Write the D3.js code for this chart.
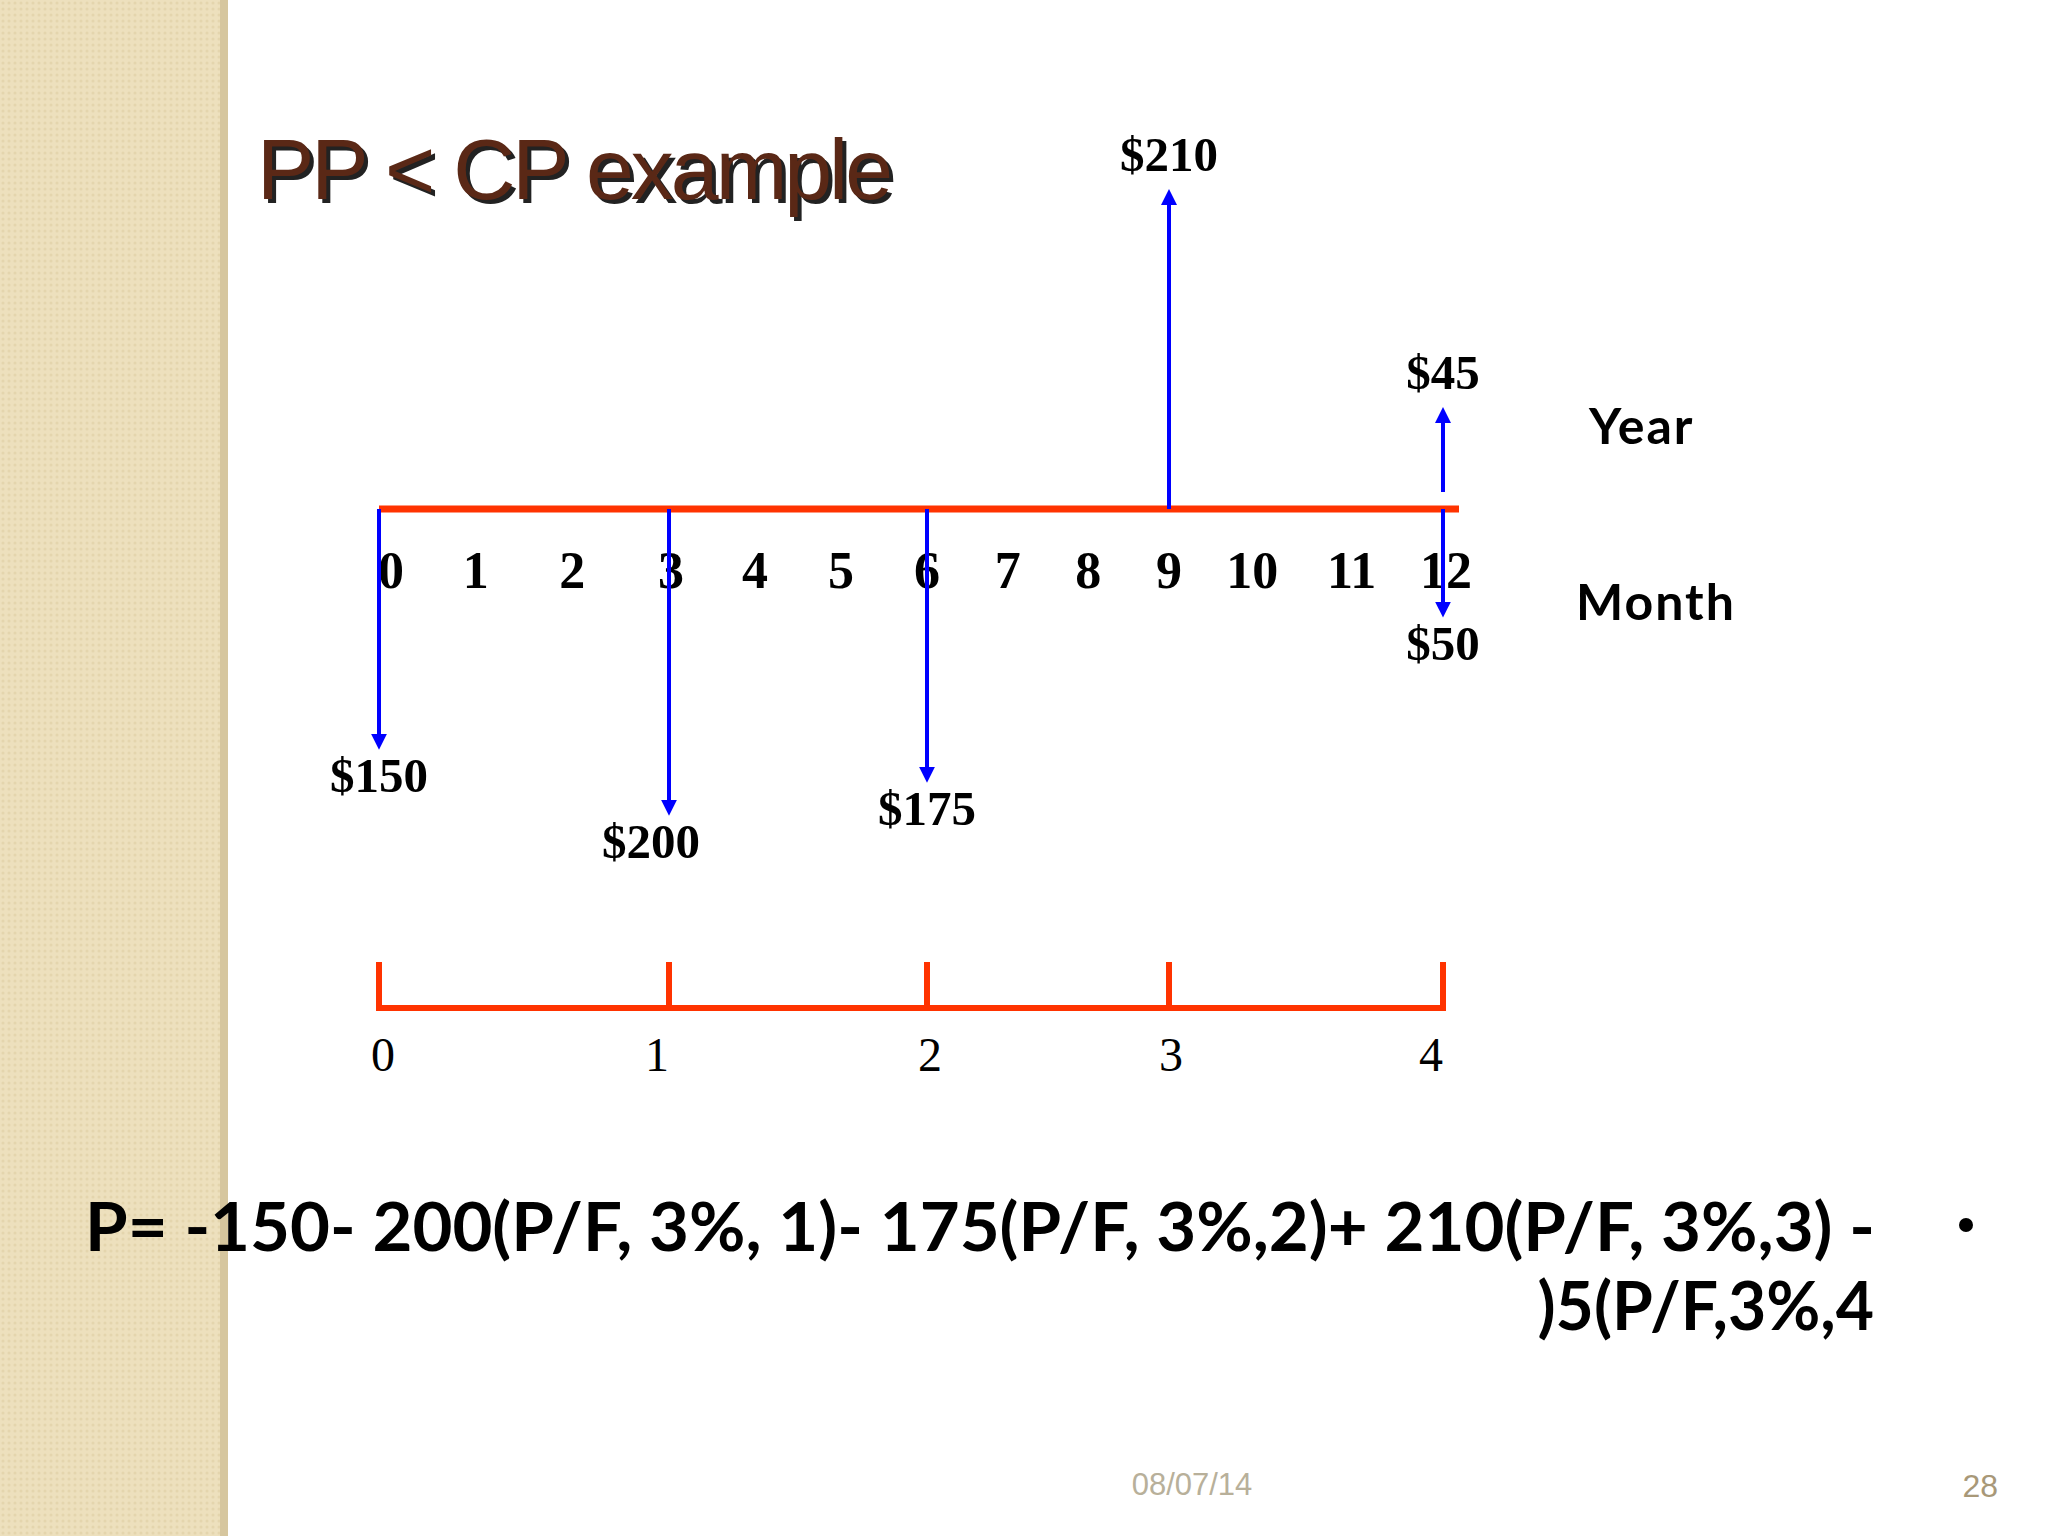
<!DOCTYPE html>
<html><head><meta charset="utf-8">
<script src="https://cdn.jsdelivr.net/npm/d3@7"></script>
<style>body{margin:0;background:#fff}svg{display:block}</style>
</head><body>
<script>
const months = [0,1,2,3,4,5,6,7,8,9,10,11,12];
const years = [0,1,2,3,4];
const flowMonths = [0,3,6,9,12,12];
const flowValues = [-150,-200,-175,210,45,-50];
const flowLabels = ["$150","$200","$175","$210","$45","$50"];
const title = "PP < CP example";
const formula1 = "P= -150- 200(P/F, 3%, 1)- 175(P/F, 3%,2)+ 210(P/F, 3%,3) -";
const formula2 = ")5(P/F,3%,4";

const W=2048,H=1536;
const svg=d3.select("body").append("svg").attr("width",W).attr("height",H);
const defs=svg.append("defs");
const pat=defs.append("pattern").attr("id","tex").attr("width",6).attr("height",6).attr("patternUnits","userSpaceOnUse");
pat.append("rect").attr("width",6).attr("height",6).attr("fill","#ede0bd");
pat.append("circle").attr("cx",3).attr("cy",3).attr("r",1.5).attr("fill","#e4d5ad");
["up","down"].forEach(id=>{
  defs.append("marker").attr("id",id).attr("viewBox","0 0 10 10").attr("refX",5).attr("refY",5)
   .attr("markerWidth",4).attr("markerHeight",4).attr("orient","auto")
   .append("path").attr("d","M0,0L10,5L0,10Z").attr("fill","#0000ff");
});
svg.append("rect").attr("width",222).attr("height",H).attr("fill","url(#tex)");
svg.append("rect").attr("x",220).attr("width",8).attr("height",H).attr("fill","#d6c69e");

svg.append("text").attr("x",261).attr("y",203).text(title)
  .attr("font-family","Liberation Sans, Arial").attr("font-size",86).attr("fill","#222").attr("letter-spacing",-3);
svg.append("text").attr("x",257).attr("y",199).text(title)
  .attr("font-family","Liberation Sans, Arial").attr("font-size",86).attr("fill","#5a2816").attr("letter-spacing",-3);

const x=d3.scaleLinear().domain([0,3,6,9,12]).range([379,669,927,1169,1443]);
const xy=d3.scaleLinear().domain([0,4]).range([0,12]);
const axisY=509;
const len=d3.scaleLinear().domain([45,210]).range([94,312]);

// month axis
svg.append("line").attr("x1",x(0)).attr("x2",x(12)+16).attr("y1",axisY).attr("y2",axisY)
  .attr("stroke","#ff3300").attr("stroke-width",7);
const labOff={0:12,3:2,12:3,10:-8};
svg.selectAll(".ml").data(months).join("text")
  .attr("x",d=>x(d)+(labOff[d]||0)).attr("y",588).attr("text-anchor","middle")
  .attr("font-family","Liberation Serif, Times New Roman").attr("font-weight","bold").attr("font-size",52)
  .text(d=>d);

// arrows
const fl=flowMonths.map((m,i)=>({m,v:flowValues[i],l:flowLabels[i]}));
fl.forEach(d=>{
  const up=d.v>0, L=len(Math.abs(d.v));
  const y0= up && d.m===12 ? axisY-17 : axisY;
  const y1= up ? axisY-L : axisY+L;
  svg.append("line").attr("x1",x(d.m)).attr("x2",x(d.m)).attr("y1",y0).attr("y2",y1)
    .attr("stroke","#0000ff").attr("stroke-width",4).attr("marker-end",`url(#${up?"up":"down"})`);
  svg.append("text").attr("x",x(d.m)-(d.m===3?18:0)).attr("y",up? y1-26 : y1+50).attr("text-anchor","middle")
    .attr("font-family","Liberation Serif, Times New Roman").attr("font-weight","bold").attr("font-size",49)
    .text(d.l);
});

// year axis
const yb=1008;
svg.append("line").attr("x1",x(0)).attr("x2",x(12)).attr("y1",yb).attr("y2",yb).attr("stroke","#ff3300").attr("stroke-width",6);
svg.selectAll(".yt").data(years).join("line")
  .attr("x1",d=>x(xy(d))).attr("x2",d=>x(xy(d))).attr("y1",962).attr("y2",yb+3)
  .attr("stroke","#ff3300").attr("stroke-width",6);
svg.selectAll(".yl").data(years).join("text")
  .attr("x",d=>x(xy(d))+[4,-12,3,2,-12][d]).attr("y",1071).attr("text-anchor","middle")
  .attr("font-family","Liberation Serif, Times New Roman").attr("font-size",48).text(d=>d);

svg.append("text").attr("x",1589).attr("y",444).text("Year")
  .attr("font-family","Lato").attr("font-weight","bold").attr("font-size",50).attr("letter-spacing",2);
svg.append("text").attr("x",1576).attr("y",620).text("Month")
  .attr("font-family","Lato").attr("font-weight","bold").attr("font-size",50).attr("letter-spacing",2);

svg.append("text").attr("x",85).attr("y",1251).text(formula1)
  .attr("font-family","Lato").attr("font-weight","bold").attr("font-size",66)
  .attr("textLength",1790).attr("lengthAdjust","spacingAndGlyphs");
svg.append("text").attr("x",1874).attr("y",1330).attr("text-anchor","end").text(formula2)
  .attr("font-family","Lato").attr("font-weight","bold").attr("font-size",66);
svg.append("circle").attr("cx",1966).attr("cy",1225).attr("r",7).attr("fill","#000");

svg.append("text").attr("x",1192).attr("y",1495).attr("text-anchor","middle").text("08/07/14")
  .attr("font-family","Liberation Sans, Arial").attr("font-size",31).attr("fill","#b8b09a");
svg.append("text").attr("x",1998).attr("y",1497).attr("text-anchor","end").text("28")
  .attr("font-family","Liberation Sans, Arial").attr("font-size",32).attr("fill","#a89878");
</script>
</body></html>
